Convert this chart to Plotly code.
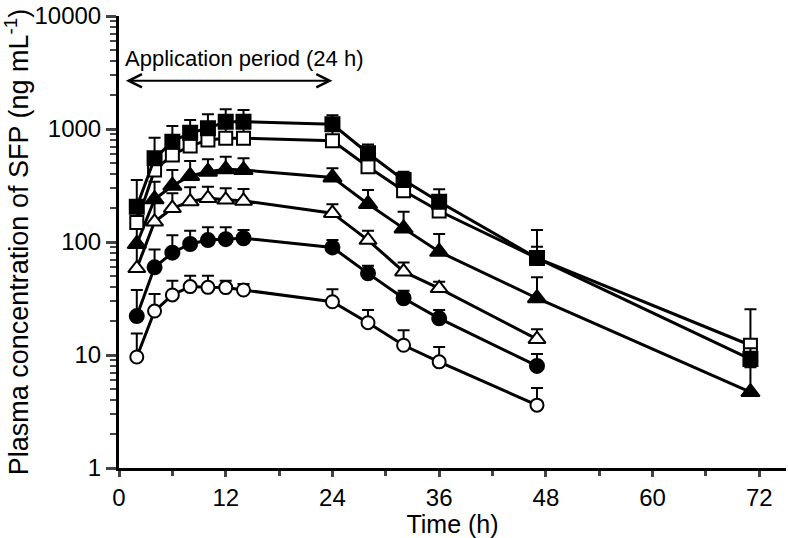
import math
import plotly.graph_objects as go

time_all = [2, 4, 6, 8, 10, 12, 14, 24, 28, 32, 36, 47, 71]
time_short = [2, 4, 6, 8, 10, 12, 14, 24, 28, 32, 36, 47]

# open circles
oc_mean = [9.6, 24.5, 34, 40.3, 39.7, 39.5, 37.6, 29.6, 19.3, 12.2, 8.7, 3.6]
oc_sd = [5.9, 10.2, 11.5, 10.1, 10.7, 6, 4.9, 8.5, 5.7, 4.4, 3.1, 1.5]
# filled circles
fc_mean = [22.1, 59.7, 80.4, 96, 104, 106, 108, 89.5, 52.8, 31.8, 21.1, 8.0]
fc_sd = [15.5, 26.3, 34.6, 30, 31, 29, 20, 14.5, 8.9, 5.3, 3.9, 2.2]
# open triangles
ot_mean = [58.5, 151, 199, 228, 244, 236, 231, 180, 104, 54.6, 38.9, 13.8]
ot_sd = [36.5, 88, 71, 77, 65, 63, 64, 36, 22, 11.4, 5.7, 3.1]
# filled triangles
ft_mean = [96, 239, 315, 384, 419, 440, 433, 373, 217, 132, 82, 31.8, 4.7]
ft_sd = [49, 103, 118, 137, 121, 129, 117, 76, 72, 53, 36, 17, 3.1]
# open squares
os_mean = [149, 433, 589, 707, 800, 828, 828, 787, 464, 284, 188, 72, 12.2]
os_sd = [60, 150, 170, 190, 210, 220, 210, 180, 100, 60, 40, 19, 13.2]
# filled squares
fs_mean = [205, 550, 773, 927, 1013, 1161, 1161, 1100, 610, 354, 227, 72, 9.2]
fs_sd = [149, 288, 291, 276, 337, 332, 312, 221, 121, 65, 66, 56, 2.3]

x_ticks = [0, 12, 24, 36, 48, 60, 72]
x_minor = [6, 18, 30, 42, 54, 66]
y_ticks = [1, 10, 100, 1000, 10000]
y_tick_text = ["1", "10", "100", "1000", "10000"]
y_minor = [m * d for d in (1, 10, 100, 1000) for m in range(2, 10)]

period_label = "Application period (24 h)"
period_start, period_end, period_level = 0.6, 24, 2675

FONT = "Liberation Sans, Arial, sans-serif"

series = [
    (time_short, oc_mean, oc_sd, "circle", "white", 13),
    (time_short, fc_mean, fc_sd, "circle", "black", 14),
    (time_short, ot_mean, ot_sd, "triangle-up", "white", 15),
    (time_all, ft_mean, ft_sd, "triangle-up", "black", 16),
    (time_all, os_mean, os_sd, "square", "white", 13),
    (time_all, fs_mean, fs_sd, "square", "black", 14),
]

fig = go.Figure()
for t, m, sd, sym, fill, size in series:
    fig.add_trace(go.Scatter(
        x=t, y=m, mode="lines+markers",
        line=dict(color="black", width=3),
        marker=dict(symbol=sym, size=size, color=fill,
                    line=dict(color="black", width=2)),
        error_y=dict(type="data", array=sd, arrayminus=[0] * len(sd),
                     symmetric=False, color="black", thickness=2, width=6),
        showlegend=False,
    ))

lv = math.log10(period_level)
fig.add_annotation(
    x=period_end, y=lv, ax=period_start, ay=lv,
    xref="x", yref="y", axref="x", ayref="y",
    showarrow=True, arrowhead=5, arrowside="end+start",
    arrowsize=1.3, arrowwidth=2, arrowcolor="black", text="",
)
fig.add_annotation(
    x=period_start, y=lv, xref="x", yref="y",
    xanchor="left", yanchor="bottom", yshift=8, xshift=-1,
    text=period_label, showarrow=False,
    font=dict(family=FONT, size=22, color="black"),
)

fig.update_layout(
    width=788, height=538,
    margin=dict(l=119, r=2, t=16, b=70),
    paper_bgcolor="white", plot_bgcolor="white",
    font=dict(family=FONT, size=24, color="black"),
    xaxis=dict(
        range=[0, 75], tickvals=x_ticks, ticks="outside", ticklen=6,
        tickwidth=3, showline=True, linewidth=3, linecolor="black",
        showgrid=False, zeroline=False, automargin=False,
        title=dict(text="Time (h)", font=dict(size=25), standoff=2),
        minor=dict(tickvals=x_minor, ticks="outside", ticklen=5,
                   tickwidth=3, showgrid=False),
    ),
    yaxis=dict(
        type="log", range=[0, 4], tickvals=y_ticks, ticktext=y_tick_text,
        ticks="outside", ticklen=10, tickwidth=3, showline=True,
        linewidth=3, linecolor="black", showgrid=False, zeroline=False,
        automargin=False,
        title=dict(text="Plasma concentration of SFP (ng mL<sup>-1</sup>)",
                   font=dict(size=27), standoff=6),
        minor=dict(tickvals=y_minor, ticks="outside", ticklen=6,
                   tickwidth=2, showgrid=False),
    ),
)

fig.write_html(
    "out.html",
    config={"displayModeBar": False},
    post_script="document.body.style.margin='0';document.body.style.overflow='hidden';",
)
